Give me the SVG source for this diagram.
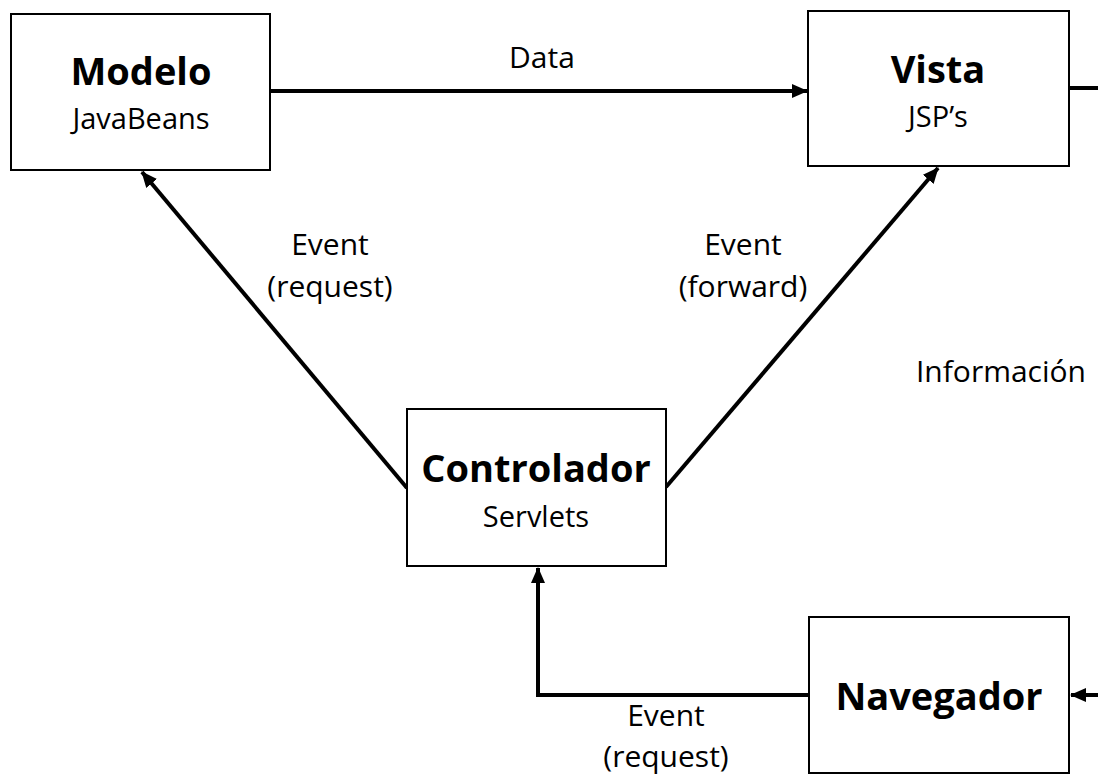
<svg xmlns="http://www.w3.org/2000/svg" width="1098" height="778" viewBox="0 0 1098 778">
  <style>
    .box { fill: #ffffff; stroke: #000000; stroke-width: 2; }
    .title { font-family: "Open Sans", "Liberation Sans", sans-serif; font-weight: bold; font-size: 38px; fill: #000; text-anchor: middle; }
    .sub { font-family: "Open Sans", "Liberation Sans", sans-serif; font-size: 29px; fill: #000; text-anchor: middle; }
    .lbl { font-family: "Open Sans", "Liberation Sans", sans-serif; font-size: 30px; fill: #000; text-anchor: middle; }
    .conn { fill: none; stroke: #000000; stroke-width: 4; }
    .arr { marker-end: url(#ah); }
  </style>
  <defs>
    <marker id="ah" markerUnits="userSpaceOnUse" markerWidth="16" markerHeight="14" refX="15" refY="7" orient="auto">
      <path d="M0,0 L16,7 L0,14 Z" fill="#000"/>
    </marker>
  </defs>
  <rect width="1098" height="778" fill="#ffffff"/>
  <g id="connectors">
    <line class="conn arr" x1="271" y1="91" x2="807" y2="91"/>
    <line class="conn" x1="1069" y1="88" x2="1098" y2="88"/>
    <line class="conn arr" x1="1098" y1="695" x2="1071" y2="695"/>
    <line class="conn arr" x1="407" y1="488" x2="142" y2="172"/>
    <line class="conn arr" x1="666" y1="487" x2="938" y2="168"/>
    <polyline class="conn arr" points="809,695 538,695 538,568"/>
  </g>
  <g id="labels">
    <text class="lbl" x="542" y="68">Data</text>
    <text class="lbl" x="330" y="255">Event</text>
    <text class="lbl" x="330" y="297">(request)</text>
    <text class="lbl" x="743" y="255">Event</text>
    <text class="lbl" x="743" y="297">(forward)</text>
    <text class="lbl" x="1001" y="382">Información</text>
    <text class="lbl" x="666" y="726">Event</text>
    <text class="lbl" x="666" y="767">(request)</text>
  </g>
  <g id="modelo">
    <rect class="box" x="11" y="14" width="259" height="156"/>
    <text class="title" x="141" y="85">Modelo</text>
    <text class="sub" x="141" y="129">JavaBeans</text>
  </g>
  <g id="vista">
    <rect class="box" x="808" y="11" width="261" height="155"/>
    <text class="title" x="938" y="83">Vista</text>
    <text class="sub" x="938" y="127">JSP’s</text>
  </g>
  <g id="controlador">
    <rect class="box" x="407" y="409" width="259" height="157"/>
    <text class="title" x="536" y="482">Controlador</text>
    <text class="sub" x="536" y="527">Servlets</text>
  </g>
  <g id="navegador">
    <rect class="box" x="809" y="617" width="260" height="156"/>
    <text class="title" x="939" y="710">Navegador</text>
  </g>
</svg>
